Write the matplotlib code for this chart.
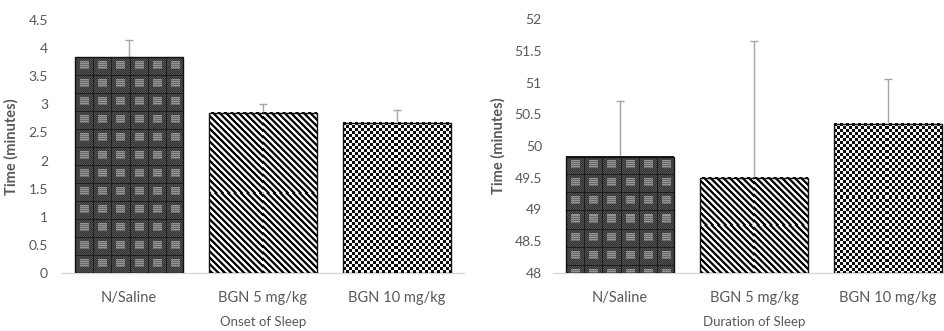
import numpy as np
import matplotlib
matplotlib.use("Agg")
import matplotlib.pyplot as plt

# ---- data ----
categories = ["N/Saline", "BGN 5 mg/kg", "BGN 10 mg/kg"]
onset_mean = [3.84, 2.85, 2.67]
onset_err = [0.31, 0.15, 0.23]
duration_mean = [49.83, 49.50, 50.35]
duration_err = [0.88, 2.15, 0.70]
onset_ticks = [0, 0.5, 1, 1.5, 2, 2.5, 3, 3.5, 4, 4.5]
onset_ticklabels = ["0", "0.5", "1", "1.5", "2", "2.5", "3", "3.5", "4", "4.5"]
duration_ticks = [48, 48.5, 49, 49.5, 50, 50.5, 51, 51.5, 52]
duration_ticklabels = ["48", "48.5", "49", "49.5", "50", "50.5", "51", "51.5", "52"]

plt.rcParams['font.family'] = ['Lato', 'DejaVu Sans']
TXT = '#595959'
DPI = 100


def tex_grid(h, w):
    i, j = np.mgrid[0:h, 0:w]
    img = np.where((i + j) % 2 == 0, 0.20, 0.32)
    bi = i % 18
    bj = j % 18
    block = (bi >= 4) & (bi <= 11) & (bj >= 5) & (bj <= 13)
    stripes = np.where(bi % 2 == 0, 0.58, 0.42)
    img = np.where(block, stripes, img)
    img = np.where((bi == 0) | (bj == 0), 0.12, img)
    return img


def tex_diag(h, w):
    i, j = np.mgrid[0:h, 0:w]
    v = 0.5 + 0.9 * np.cos(2 * np.pi * (j - i) / 6.4)
    return np.clip(v, 0.0, 1.0)


def tex_check(h, w):
    i, j = np.mgrid[0:h, 0:w]
    c = ((i // 3) + (j // 3)) % 2
    return np.where(c == 0, 0.05, 0.97)


textures = [tex_grid, tex_diag, tex_check]

fig = plt.figure(figsize=(9.44, 3.31), dpi=DPI)
ax1 = fig.add_axes([62 / 944, 58 / 331, 402 / 944, 253 / 331])
ax2 = fig.add_axes([553 / 944, 58 / 331, 402 / 944, 254 / 331])


def draw(ax, means, errs, base, top, ticks, ticklabels, xlabel, tickpad):
    x = np.arange(len(categories))
    heights = [m - base for m in means]
    ax.set_xlim(-0.5, len(categories) - 0.5)
    ax.set_ylim(base, top)
    bars = ax.bar(x, heights, bottom=base, width=0.8, facecolor='none',
                  edgecolor='#111111', linewidth=1.0, zorder=3)
    fig.canvas.draw()
    for k, b in enumerate(bars):
        x0, y0 = b.get_x(), b.get_y()
        x1, y1 = x0 + b.get_width(), y0 + b.get_height()
        p0 = ax.transData.transform((x0, y0))
        p1 = ax.transData.transform((x1, y1))
        wpx = max(int(round(abs(p1[0] - p0[0]))), 1)
        hpx = max(int(round(abs(p1[1] - p0[1]))), 1)
        img = textures[k](hpx, wpx)
        ax.imshow(img, cmap='gray', vmin=0, vmax=1, extent=(x0, x1, y0, y1),
                  aspect='auto', interpolation='nearest', zorder=2, origin='upper')
    ax.set_xlim(-0.5, len(categories) - 0.5)
    ax.set_ylim(base, top)
    ax.errorbar(x, means, yerr=[[0] * len(errs), errs], fmt='none',
                ecolor='#a6a6a6', elinewidth=1.0, capsize=3, capthick=1.0, zorder=1)
    for s in ['top', 'right', 'left']:
        ax.spines[s].set_visible(False)
    ax.spines['bottom'].set_color('#d9d9d9')
    ax.spines['bottom'].set_linewidth(1.0)
    ax.spines['bottom'].set_zorder(1)
    ax.set_xticks(x)
    ax.set_xticklabels(categories, fontsize=10.5, color=TXT)
    ax.set_yticks(ticks)
    ax.set_yticklabels(ticklabels, fontsize=10, color=TXT)
    ax.tick_params(axis='x', length=0, pad=13)
    ax.tick_params(axis='y', length=0, pad=tickpad)
    ax.set_ylabel('Time (minutes)', fontsize=10.5, fontweight='bold', color=TXT)
    ax.set_xlabel(xlabel, fontsize=9.5, color=TXT, labelpad=8)


draw(ax1, onset_mean, onset_err, 0, 4.5, onset_ticks, onset_ticklabels,
     'Onset of Sleep', 10)
draw(ax2, duration_mean, duration_err, 48, 52, duration_ticks, duration_ticklabels,
     'Duration of Sleep', 8)
ax1.yaxis.set_label_coords(-0.109, 0.5)
ax2.yaxis.set_label_coords(-0.119, 0.5)

fig.savefig('out.png', dpi=DPI)
